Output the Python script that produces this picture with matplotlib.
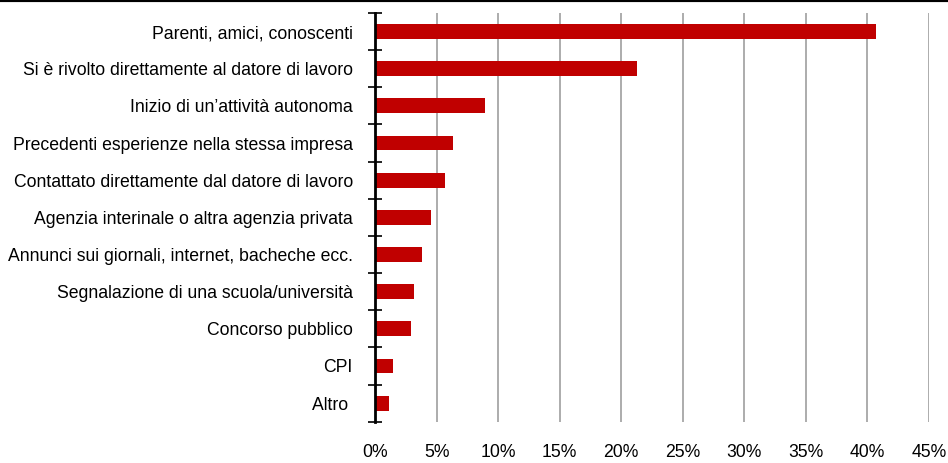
import matplotlib.pyplot as plt
from matplotlib.lines import Line2D
from matplotlib.ticker import FixedLocator, PercentFormatter

# font condensato simile all'originale
plt.rcParams['font.family'] = ['Liberation Sans Narrow', 'Liberation Sans', 'DejaVu Sans']

# dati (quota % per canale di ricerca)
categorie = [
    'Parenti, amici, conoscenti',
    'Si è rivolto direttamente al datore di lavoro',
    'Inizio di un’attività autonoma',
    'Precedenti esperienze nella stessa impresa',
    'Contattato direttamente dal datore di lavoro',
    'Agenzia interinale o altra agenzia privata',
    'Annunci sui giornali, internet, bacheche ecc.',
    'Segnalazione di una scuola/università',
    'Concorso pubblico',
    'CPI',
    'Altro ',
]
valori = [40.7, 21.3, 8.9, 6.3, 5.7, 4.55, 3.8, 3.15, 2.95, 1.45, 1.15]
tick_x = [0, 5, 10, 15, 20, 25, 30, 35, 40, 45]

fig = plt.figure(figsize=(9.48, 4.63), dpi=100)
ax = fig.add_axes([0.3956, 0.0892, 0.5844, 0.8827])

pos = list(range(len(categorie)))
ax.barh(pos, valori, height=0.4, color='#C00000', zorder=3)

ax.set_xlim(0, 45)
ax.set_ylim(len(categorie) - 0.5, -0.5)

# griglia verticale
ax.set_xticks(tick_x)
ax.xaxis.set_major_formatter(PercentFormatter(decimals=0))
ax.grid(axis='x', color='#A6A6A6', linewidth=1.3, zorder=0)
ax.tick_params(axis='x', length=0, pad=16, labelsize=12.7)

# tacche tra le categorie, etichette al centro
ax.yaxis.set_major_locator(FixedLocator([p - 0.5 for p in pos] + [len(pos) - 0.5]))
ax.yaxis.set_major_formatter(plt.NullFormatter())
ax.yaxis.set_minor_locator(FixedLocator(pos))
ax.set_yticklabels(categorie, minor=True)
ax.tick_params(axis='y', which='major', direction='inout', length=9.5, width=1.2, color='black')
ax.tick_params(axis='y', which='minor', length=0, pad=16, labelsize=12.7)

for s in ['top', 'right', 'bottom']:
    ax.spines[s].set_visible(False)
ax.spines['left'].set_linewidth(2)
ax.spines['left'].set_zorder(4)

# linea nera in alto
fig.add_artist(Line2D([0, 1], [1, 1], color='black', linewidth=3,
                      transform=fig.transFigure))

fig.savefig('out.png', dpi=100)
